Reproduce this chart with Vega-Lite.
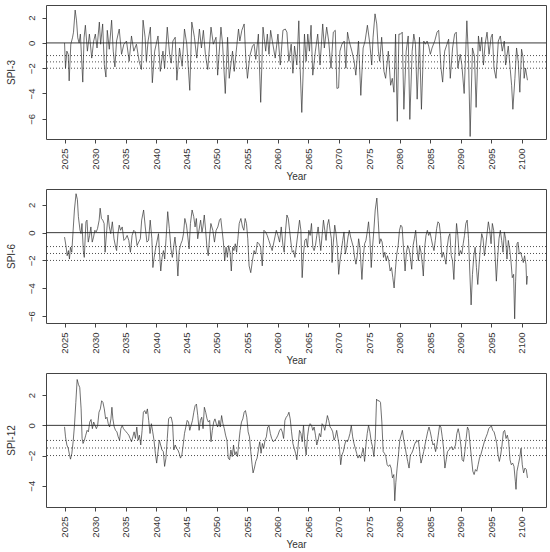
{
"$schema": "https://vega.github.io/schema/vega-lite/v6.json",
"padding": {"left": 5, "top": 4, "right": 5, "bottom": 0},
"background": "white",
"spacing": 50,
"bounds": "flush",
"config": {
  "view": {"stroke": "#444", "strokeWidth": 1},
  "font": "Liberation Sans",
  "axis": {"grid": false, "domain": false, "tickColor": "#444", "tickSize": 4, "labelColor": "#333", "labelFontSize": 9.5, "titleFontSize": 10, "titleFontWeight": "normal", "titleColor": "#333", "labelFont": "Liberation Sans", "titleFont": "Liberation Sans", "labelOverlap": false},
  "axisX": {"labelAngle": 270, "labelPadding": 5, "titleY": 37, "titleBaseline": "middle"},
  "axisY": {"labelAngle": 270, "labelPadding": 6, "titleX": -35, "titleBaseline": "middle", "titleAngle": 270}
},
"datasets": {
"s3": [
{"t":2025.0,"v":0.0},{"t":2025.16,"v":-2.0},{"t":2025.38,"v":-0.65},{"t":2025.6,"v":-0.9},{"t":2025.76,"v":-3.0},{"t":2026.03,"v":-0.1},{"t":2026.3,"v":0.4},{"t":2026.47,"v":0.85},{"t":2026.74,"v":2.6},{"t":2026.96,"v":1.8},{"t":2027.17,"v":0.4},{"t":2027.39,"v":0.0},{"t":2027.6,"v":0.7},{"t":2027.99,"v":-3.1},{"t":2028.2,"v":0.4},{"t":2028.42,"v":1.4},{"t":2028.75,"v":-0.65},{"t":2029.08,"v":0.7},{"t":2029.46,"v":-1.2},{"t":2029.78,"v":0.15},{"t":2030.05,"v":0.7},{"t":2030.33,"v":-0.4},{"t":2030.71,"v":1.65},{"t":2030.92,"v":-0.1},{"t":2031.25,"v":1.5},{"t":2031.52,"v":-1.7},{"t":2031.79,"v":-2.7},{"t":2032.01,"v":1.0},{"t":2032.34,"v":-0.5},{"t":2032.72,"v":1.8},{"t":2032.99,"v":-0.65},{"t":2033.26,"v":-1.9},{"t":2033.53,"v":0.15},{"t":2033.97,"v":1.1},{"t":2034.35,"v":-0.9},{"t":2034.73,"v":-0.1},{"t":2035.16,"v":0.15},{"t":2035.6,"v":-1.45},{"t":2035.98,"v":0.55},{"t":2036.36,"v":-0.65},{"t":2036.79,"v":-0.1},{"t":2037.23,"v":-1.45},{"t":2037.61,"v":-2.1},{"t":2037.88,"v":1.8},{"t":2038.21,"v":0.45},{"t":2038.42,"v":-1.45},{"t":2038.7,"v":0.15},{"t":2039.08,"v":1.25},{"t":2039.4,"v":-3.15},{"t":2039.78,"v":-0.65},{"t":2040.33,"v":0.55},{"t":2040.71,"v":-2.25},{"t":2041.14,"v":-0.65},{"t":2041.41,"v":-2.0},{"t":2041.85,"v":1.25},{"t":2042.23,"v":-0.9},{"t":2042.5,"v":-1.6},{"t":2042.77,"v":0.15},{"t":2043.15,"v":0.45},{"t":2043.42,"v":-2.95},{"t":2043.86,"v":-0.4},{"t":2044.29,"v":-1.85},{"t":2044.67,"v":1.1},{"t":2045.05,"v":-0.1},{"t":2045.54,"v":-3.75},{"t":2045.87,"v":1.65},{"t":2046.3,"v":0.45},{"t":2046.68,"v":-1.2},{"t":2047.12,"v":1.1},{"t":2047.45,"v":-0.4},{"t":2047.77,"v":1.0},{"t":2048.1,"v":-0.9},{"t":2048.48,"v":-2.1},{"t":2049.02,"v":1.25},{"t":2049.4,"v":-0.1},{"t":2049.84,"v":0.45},{"t":2050.11,"v":-2.55},{"t":2050.65,"v":1.25},{"t":2050.92,"v":-0.1},{"t":2051.36,"v":-4.0},{"t":2051.74,"v":0.45},{"t":2052.01,"v":-2.8},{"t":2052.55,"v":-0.65},{"t":2052.83,"v":-2.25},{"t":2053.21,"v":-0.4},{"t":2053.53,"v":1.1},{"t":2053.75,"v":0.15},{"t":2054.08,"v":1.0},{"t":2054.46,"v":1.5},{"t":2054.73,"v":-1.2},{"t":2055.0,"v":-2.8},{"t":2055.38,"v":-1.05},{"t":2055.82,"v":-0.25},{"t":2056.09,"v":-0.1},{"t":2056.36,"v":-1.3},{"t":2056.79,"v":0.7},{"t":2057.17,"v":-4.7},{"t":2057.55,"v":1.25},{"t":2057.99,"v":-0.65},{"t":2058.26,"v":0.7},{"t":2058.53,"v":-0.9},{"t":2058.8,"v":1.0},{"t":2059.08,"v":0.15},{"t":2059.55,"v":-1.2},
{"t":2060.0,"v":0.7},{"t":2060.38,"v":-1.75},{"t":2060.82,"v":1.0},{"t":2061.2,"v":1.1},{"t":2061.47,"v":0.85},{"t":2061.79,"v":-1.45},{"t":2062.17,"v":-0.1},{"t":2062.45,"v":-2.4},{"t":2062.72,"v":-0.25},{"t":2063.1,"v":-1.75},{"t":2063.42,"v":1.75},{"t":2063.64,"v":-2.0},{"t":2063.91,"v":-5.5},{"t":2064.35,"v":0.7},{"t":2064.62,"v":-1.45},{"t":2064.89,"v":0.7},{"t":2065.16,"v":-0.65},{"t":2065.43,"v":1.4},{"t":2065.71,"v":-2.55},{"t":2066.14,"v":-0.65},{"t":2066.52,"v":0.7},{"t":2066.9,"v":-1.75},{"t":2067.34,"v":1.5},{"t":2067.61,"v":-0.4},{"t":2067.99,"v":1.25},{"t":2068.32,"v":0.15},{"t":2068.7,"v":-2.0},{"t":2069.08,"v":0.85},{"t":2069.4,"v":1.0},{"t":2069.67,"v":-3.6},{"t":2069.95,"v":-3.55},{"t":2070.16,"v":-0.65},{"t":2070.49,"v":-0.1},{"t":2070.87,"v":0.15},{"t":2071.14,"v":-2.0},{"t":2071.41,"v":0.85},{"t":2071.68,"v":0.15},{"t":2072.12,"v":-0.65},{"t":2072.5,"v":-1.45},{"t":2072.77,"v":-2.55},{"t":2073.21,"v":0.15},{"t":2073.59,"v":-4.15},{"t":2073.97,"v":-0.4},{"t":2074.29,"v":0.15},{"t":2074.67,"v":1.4},{"t":2075.05,"v":0.0},{"t":2075.38,"v":-1.75},{"t":2075.6,"v":0.45},{"t":2075.92,"v":2.3},{"t":2076.2,"v":1.5},{"t":2076.47,"v":-0.65},{"t":2076.68,"v":-1.45},{"t":2077.01,"v":0.45},{"t":2077.39,"v":-2.25},{"t":2077.66,"v":-2.8},{"t":2078.1,"v":-0.65},{"t":2078.48,"v":-3.35},{"t":2078.75,"v":-2.8},{"t":2079.02,"v":-3.9},{"t":2079.29,"v":0.7},{"t":2079.57,"v":-6.2},{"t":2079.84,"v":0.7},{"t":2080.11,"v":0.7},{"t":2080.38,"v":0.85},{"t":2080.65,"v":-5.25},{"t":2081.03,"v":-0.65},{"t":2081.36,"v":0.55},{"t":2081.63,"v":-6.05},{"t":2082.01,"v":-0.65},{"t":2082.28,"v":0.7},{"t":2082.55,"v":-0.1},{"t":2082.83,"v":-4.45},{"t":2083.21,"v":0.45},{"t":2083.53,"v":-5.25},{"t":2083.91,"v":0.15},{"t":2084.18,"v":-0.1},{"t":2084.46,"v":0.15},{"t":2084.73,"v":-0.25},{"t":2085.0,"v":-0.9},{"t":2085.27,"v":-0.4},{"t":2085.71,"v":0.15},{"t":2086.09,"v":0.85},{"t":2086.36,"v":1.0},{"t":2086.74,"v":-2.0},{"t":2087.01,"v":-3.1},{"t":2087.34,"v":-0.65},{"t":2087.72,"v":-0.1},{"t":2087.99,"v":0.3},{"t":2088.26,"v":-2.8},{"t":2088.64,"v":-0.4},{"t":2088.97,"v":0.7},{"t":2089.24,"v":0.85},{"t":2089.51,"v":-2.0},{"t":2089.89,"v":-0.9},{"t":2090.16,"v":-1.75},{"t":2090.54,"v":-4.0},{"t":2090.98,"v":1.75},{"t":2091.25,"v":-1.2},{"t":2091.52,"v":-7.4},{"t":2091.9,"v":-0.4},{"t":2092.23,"v":-1.05},{"t":2092.5,"v":-5.1},{"t":2092.88,"v":0.55},{"t":2093.15,"v":-0.65},{"t":2093.42,"v":0.45},{"t":2093.7,"v":-1.75},{"t":2093.97,"v":-0.1},{"t":2094.29,"v":0.85},{"t":2094.62,"v":-0.9},{"t":2094.95,"v":0.45},{"t":2095.16,"v":0.7},{"t":2095.43,"v":-2.0},{"t":2095.76,"v":-2.8},{"t":2096.14,"v":0.15},{"t":2096.47,"v":0.55},{"t":2096.79,"v":-0.65},{"t":2097.12,"v":0.15},{"t":2097.34,"v":-1.75},{"t":2097.77,"v":-0.25},{"t":2098.1,"v":-2.1},{"t":2098.32,"v":-3.35},{"t":2098.53,"v":-5.25},{"t":2098.86,"v":-2.8},{"t":2099.13,"v":-0.4},{"t":2099.4,"v":-1.45},{"t":2099.67,"v":-3.9},{"t":2099.95,"v":-0.5},{"t":2100.22,"v":-1.2},{"t":2100.38,"v":-2.8},{"t":2100.6,"v":-2.0},{"t":2100.92,"v":-2.95}
],
"s6": [
{"t":2025.0,"v":-0.32},{"t":2025.27,"v":-1.05},{"t":2025.43,"v":-1.66},{"t":2025.65,"v":-1.29},{"t":2025.81,"v":-1.9},{"t":2025.97,"v":-1.05},{"t":2026.19,"v":-1.41},{"t":2026.41,"v":0.17},{"t":2026.62,"v":1.63},{"t":2026.89,"v":2.8},{"t":2027.11,"v":2.37},{"t":2027.27,"v":1.15},{"t":2027.54,"v":0.17},{"t":2027.7,"v":-0.07},{"t":2027.86,"v":0.66},{"t":2028.08,"v":-1.29},{"t":2028.24,"v":-1.78},{"t":2028.51,"v":0.78},{"t":2028.68,"v":0.9},{"t":2028.89,"v":-0.68},{"t":2029.11,"v":-0.2},{"t":2029.32,"v":0.41},{"t":2029.54,"v":-0.68},{"t":2029.76,"v":-0.32},{"t":2029.97,"v":0.17},{"t":2030.19,"v":0.05},{"t":2030.41,"v":0.29},{"t":2030.68,"v":0.9},{"t":2030.84,"v":1.76},{"t":2031.05,"v":1.02},{"t":2031.27,"v":0.9},{"t":2031.49,"v":0.66},{"t":2031.65,"v":-1.41},{"t":2031.92,"v":0.17},{"t":2032.14,"v":1.27},{"t":2032.35,"v":0.41},{"t":2032.57,"v":-0.07},{"t":2032.84,"v":0.78},{"t":2033.11,"v":-0.44},{"t":2033.38,"v":-1.05},{"t":2033.54,"v":-1.29},{"t":2033.76,"v":-0.07},{"t":2033.97,"v":0.54},{"t":2034.19,"v":0.17},{"t":2034.46,"v":0.41},{"t":2034.73,"v":-0.56},{"t":2035.0,"v":-0.44},{"t":2035.27,"v":-0.2},{"t":2035.54,"v":-0.56},{"t":2035.81,"v":-1.41},{"t":2036.08,"v":-0.2},{"t":2036.35,"v":0.17},{"t":2036.62,"v":0.05},{"t":2036.89,"v":-0.93},{"t":2037.16,"v":-0.68},{"t":2037.43,"v":-0.44},{"t":2037.65,"v":0.9},{"t":2037.97,"v":1.63},{"t":2038.24,"v":0.41},{"t":2038.51,"v":-0.68},{"t":2038.78,"v":-0.56},{"t":2039.05,"v":0.9},{"t":2039.32,"v":-0.44},{"t":2039.49,"v":-2.51},{"t":2039.7,"v":-1.78},{"t":2039.92,"v":-1.17},{"t":2040.14,"v":-0.68},{"t":2040.41,"v":-0.07},{"t":2040.57,"v":-1.41},{"t":2040.78,"v":-2.76},{"t":2041.0,"v":-1.78},{"t":2041.22,"v":-1.29},{"t":2041.43,"v":-1.9},{"t":2041.65,"v":-0.44},{"t":2041.92,"v":1.51},{"t":2042.19,"v":0.29},{"t":2042.46,"v":-1.17},{"t":2042.68,"v":-1.78},{"t":2042.89,"v":-1.05},{"t":2043.11,"v":-0.32},{"t":2043.38,"v":-1.54},{"t":2043.59,"v":-3.12},{"t":2043.81,"v":-1.29},{"t":2044.08,"v":-0.8},{"t":2044.3,"v":-0.56},{"t":2044.51,"v":-0.07},{"t":2044.73,"v":1.02},{"t":2045.0,"v":0.54},{"t":2045.22,"v":-0.32},{"t":2045.43,"v":-1.17},{"t":2045.65,"v":0.66},{"t":2045.92,"v":1.63},{"t":2046.19,"v":1.15},{"t":2046.41,"v":0.41},{"t":2046.62,"v":1.02},{"t":2046.84,"v":-0.44},{"t":2047.05,"v":0.17},{"t":2047.32,"v":0.9},{"t":2047.54,"v":0.05},{"t":2047.7,"v":0.41},{"t":2047.92,"v":1.27},{"t":2048.14,"v":0.17},{"t":2048.35,"v":-1.05},{"t":2048.57,"v":-1.66},{"t":2048.78,"v":-0.32},{"t":2049.0,"v":0.66},{"t":2049.32,"v":0.17},{"t":2049.59,"v":-0.68},{"t":2049.86,"v":0.17},{"t":2050.14,"v":0.41},{"t":2050.41,"v":0.9},{"t":2050.62,"v":1.02},{"t":2050.84,"v":0.17},{"t":2051.05,"v":-0.68},{"t":2051.27,"v":-2.02},{"t":2051.49,"v":-1.05},{"t":2051.7,"v":-1.78},{"t":2051.92,"v":-0.93},{"t":2052.14,"v":-1.41},{"t":2052.35,"v":-2.76},{"t":2052.57,"v":-1.05},{"t":2052.78,"v":-1.29},{"t":2053.0,"v":-0.8},{"t":2053.22,"v":-1.41},{"t":2053.43,"v":-0.44},{"t":2053.65,"v":0.66},{"t":2053.92,"v":1.02},{"t":2054.19,"v":0.41},{"t":2054.41,"v":0.17},{"t":2054.62,"v":1.02},{"t":2054.84,"v":0.66},{"t":2055.05,"v":-0.44},{"t":2055.27,"v":-2.39},{"t":2055.54,"v":-2.88},{"t":2055.81,"v":-2.02},{"t":2056.08,"v":-1.29},{"t":2056.35,"v":-1.54},{"t":2056.62,"v":-0.68},{"t":2056.89,"v":-0.8},{"t":2057.16,"v":-1.05},{"t":2057.43,"v":-2.39},{"t":2057.7,"v":0.17},{"t":2057.97,"v":0.05},{"t":2058.24,"v":-0.2},{"t":2058.51,"v":-0.56},{"t":2058.78,"v":-0.93},{"t":2059.05,"v":-1.29},
{"t":2059.73,"v":0.17},{"t":2060.0,"v":-0.2},{"t":2060.27,"v":-0.68},{"t":2060.54,"v":0.41},{"t":2060.82,"v":-0.93},{"t":2061.03,"v":-1.41},{"t":2061.25,"v":0.17},{"t":2061.47,"v":1.27},{"t":2061.69,"v":1.02},{"t":2061.91,"v":0.17},{"t":2062.12,"v":-0.68},{"t":2062.34,"v":-1.41},{"t":2062.56,"v":-1.29},{"t":2062.78,"v":-1.78},{"t":2062.99,"v":-1.05},{"t":2063.27,"v":-0.07},{"t":2063.54,"v":0.9},{"t":2063.76,"v":0.17},{"t":2063.97,"v":-3.24},{"t":2064.19,"v":-1.54},{"t":2064.41,"v":-0.56},{"t":2064.63,"v":-0.44},{"t":2064.84,"v":-1.05},{"t":2065.06,"v":0.17},{"t":2065.28,"v":-0.2},{"t":2065.5,"v":0.66},{"t":2065.72,"v":-1.05},{"t":2065.93,"v":-1.29},{"t":2066.15,"v":-0.93},{"t":2066.37,"v":-0.2},{"t":2066.59,"v":0.41},{"t":2066.8,"v":-0.44},{"t":2067.02,"v":-1.29},{"t":2067.24,"v":-0.2},{"t":2067.46,"v":0.9},{"t":2067.68,"v":0.17},{"t":2067.89,"v":-0.56},{"t":2068.11,"v":0.54},{"t":2068.33,"v":0.95},{"t":2068.55,"v":0.17},{"t":2068.76,"v":-0.44},{"t":2068.87,"v":-2.15},{"t":2069.09,"v":-0.68},{"t":2069.31,"v":0.54},{"t":2069.53,"v":-0.07},{"t":2069.74,"v":-1.05},{"t":2069.96,"v":-3.0},{"t":2070.18,"v":-2.02},{"t":2070.4,"v":-1.29},{"t":2070.62,"v":-0.56},{"t":2070.83,"v":0.05},{"t":2071.05,"v":-1.54},{"t":2071.27,"v":-1.05},{"t":2071.49,"v":-0.32},{"t":2071.7,"v":0.17},{"t":2071.92,"v":-0.32},{"t":2072.14,"v":-0.68},{"t":2072.36,"v":-1.05},{"t":2072.57,"v":-1.78},{"t":2072.79,"v":-2.27},{"t":2073.01,"v":-1.66},{"t":2073.23,"v":-0.44},{"t":2073.45,"v":-1.05},{"t":2073.77,"v":-3.37},{"t":2073.99,"v":-1.78},{"t":2074.21,"v":-0.8},{"t":2074.43,"v":-0.56},{"t":2074.64,"v":0.05},{"t":2074.86,"v":0.78},{"t":2075.08,"v":-0.44},{"t":2075.3,"v":-2.51},{"t":2075.51,"v":-1.05},{"t":2075.73,"v":0.17},{"t":2075.95,"v":1.63},{"t":2076.22,"v":2.49},{"t":2076.44,"v":0.9},{"t":2076.66,"v":-0.8},{"t":2076.87,"v":-0.44},{"t":2077.09,"v":-0.68},{"t":2077.31,"v":-1.78},{"t":2077.53,"v":-1.41},{"t":2077.75,"v":-2.02},{"t":2077.96,"v":-1.66},{"t":2078.18,"v":-2.02},{"t":2078.4,"v":-2.76},{"t":2078.62,"v":-2.51},{"t":2078.84,"v":-3.24},{"t":2079.05,"v":-3.98},{"t":2079.27,"v":-2.63},{"t":2079.49,"v":-1.54},{"t":2079.71,"v":-0.93},{"t":2079.93,"v":0.17},{"t":2080.14,"v":0.54},{"t":2080.36,"v":0.41},{"t":2080.58,"v":-1.05},{"t":2080.85,"v":-2.76},{"t":2081.07,"v":-1.41},{"t":2081.28,"v":-0.93},{"t":2081.5,"v":-1.17},{"t":2081.72,"v":-1.78},{"t":2081.94,"v":-2.63},{"t":2082.16,"v":-0.93},{"t":2082.37,"v":-0.44},{"t":2082.59,"v":0.17},{"t":2082.81,"v":-1.17},{"t":2083.03,"v":-2.02},{"t":2083.24,"v":-0.93},{"t":2083.46,"v":-1.41},{"t":2083.68,"v":-2.27},{"t":2083.84,"v":-3.12},{"t":2084.06,"v":-1.05},{"t":2084.28,"v":-0.2},{"t":2084.5,"v":0.17},{"t":2084.72,"v":-0.2},{"t":2084.93,"v":0.05},{"t":2085.15,"v":-0.44},{"t":2085.37,"v":-0.93},{"t":2085.59,"v":-1.29},{"t":2085.8,"v":-0.56},{"t":2086.02,"v":0.29},{"t":2086.24,"v":0.78},{"t":2086.46,"v":0.66},{"t":2086.67,"v":-0.2},{"t":2086.89,"v":-1.78},{"t":2087.11,"v":-1.41},{"t":2087.33,"v":-1.78},{"t":2087.55,"v":-2.27},{"t":2087.76,"v":-1.05},{"t":2087.98,"v":-0.32},{"t":2088.2,"v":-0.07},{"t":2088.42,"v":-1.66},{"t":2088.63,"v":-2.02},{"t":2088.85,"v":-3.37},{"t":2089.07,"v":-1.05},{"t":2089.29,"v":0.66},{"t":2089.5,"v":-0.2},{"t":2089.72,"v":-1.66},{"t":2089.94,"v":-1.29},{"t":2090.16,"v":-1.54},{"t":2090.38,"v":-0.8},{"t":2090.59,"v":-0.2},{"t":2090.81,"v":0.66},{"t":2091.03,"v":0.9},{"t":2091.25,"v":-0.44},{"t":2091.46,"v":-2.76},{"t":2091.68,"v":-5.2},{"t":2091.9,"v":-3.0},{"t":2092.12,"v":-1.66},{"t":2092.34,"v":-1.05},{"t":2092.55,"v":-2.51},{"t":2092.77,"v":-3.73},{"t":2092.99,"v":-2.27},{"t":2093.21,"v":-1.05},{"t":2093.42,"v":-0.07},{"t":2093.64,"v":-0.44},{"t":2093.86,"v":-1.66},{"t":2094.08,"v":-0.93},{"t":2094.29,"v":-0.07},{"t":2094.51,"v":0.78},{"t":2094.73,"v":0.17},{"t":2094.95,"v":-0.8},{"t":2095.16,"v":0.66},{"t":2095.38,"v":0.17},{"t":2095.6,"v":-1.54},{"t":2095.82,"v":-3.49},{"t":2096.04,"v":-1.78},{"t":2096.25,"v":-0.44},{"t":2096.47,"v":0.17},{"t":2096.69,"v":-0.56},{"t":2096.91,"v":-1.41},{"t":2097.13,"v":0.05},{"t":2097.34,"v":-0.44},{"t":2097.56,"v":-1.9},{"t":2097.78,"v":-0.56},{"t":2098.0,"v":-1.17},{"t":2098.21,"v":-2.02},{"t":2098.43,"v":-3.24},{"t":2098.65,"v":-3.0},{"t":2098.82,"v":-6.2},{"t":2098.98,"v":-3.49},{"t":2099.2,"v":-0.8},{"t":2099.37,"v":-0.68},{"t":2099.58,"v":-1.54},{"t":2099.8,"v":-1.41},{"t":2100.02,"v":-1.78},{"t":2100.24,"v":-2.15},{"t":2100.45,"v":-1.66},{"t":2100.67,"v":-2.27},{"t":2100.8,"v":-3.73},{"t":2100.92,"v":-3.12}
],
"s12": [
{"t":2025.0,"v":-0.1},{"t":2025.16,"v":-0.76},{"t":2025.38,"v":-1.3},{"t":2025.6,"v":-1.52},{"t":2025.82,"v":-1.96},{"t":2025.98,"v":-2.24},{"t":2026.2,"v":-1.85},{"t":2026.41,"v":-1.09},{"t":2026.63,"v":0.0},{"t":2026.85,"v":1.52},{"t":2027.07,"v":3.04},{"t":2027.28,"v":2.72},{"t":2027.5,"v":2.5},{"t":2027.72,"v":1.09},{"t":2027.88,"v":-0.87},{"t":2028.04,"v":-1.2},{"t":2028.26,"v":-0.98},{"t":2028.48,"v":-0.65},{"t":2028.7,"v":-0.33},{"t":2028.91,"v":-0.43},{"t":2029.13,"v":0.22},{"t":2029.35,"v":0.39},{"t":2029.57,"v":-0.22},{"t":2029.78,"v":0.22},{"t":2030.0,"v":0.0},{"t":2030.22,"v":-0.22},{"t":2030.43,"v":0.0},{"t":2030.65,"v":0.87},{"t":2030.87,"v":1.09},{"t":2031.09,"v":1.63},{"t":2031.3,"v":1.52},{"t":2031.52,"v":1.09},{"t":2031.74,"v":0.43},{"t":2031.96,"v":0.54},{"t":2032.17,"v":0.11},{"t":2032.39,"v":-0.11},{"t":2032.61,"v":0.43},{"t":2032.77,"v":1.2},{"t":2032.93,"v":0.43},{"t":2033.15,"v":-0.11},{"t":2033.37,"v":-0.33},{"t":2033.59,"v":-0.43},{"t":2033.8,"v":-0.76},{"t":2034.02,"v":-0.98},{"t":2034.24,"v":-0.22},{"t":2034.46,"v":0.0},{"t":2034.67,"v":-0.22},{"t":2034.89,"v":-0.33},{"t":2035.11,"v":-0.43},{"t":2035.33,"v":-0.54},{"t":2035.54,"v":-0.65},{"t":2035.76,"v":-0.87},{"t":2035.98,"v":-1.09},{"t":2036.2,"v":-0.76},{"t":2036.41,"v":-0.43},{"t":2036.63,"v":-0.87},{"t":2036.85,"v":-0.11},{"t":2037.07,"v":-0.98},{"t":2037.28,"v":-0.65},{"t":2037.5,"v":-1.3},{"t":2037.72,"v":-0.33},{"t":2037.93,"v":0.87},{"t":2038.15,"v":0.98},{"t":2038.37,"v":0.76},{"t":2038.59,"v":1.09},{"t":2038.8,"v":0.33},{"t":2039.02,"v":-0.54},{"t":2039.24,"v":0.11},{"t":2039.46,"v":-0.43},{"t":2039.67,"v":-0.98},{"t":2039.89,"v":-1.85},{"t":2040.11,"v":-2.5},{"t":2040.33,"v":-1.74},{"t":2040.54,"v":-0.98},{"t":2040.76,"v":-1.3},{"t":2040.98,"v":-1.63},{"t":2041.2,"v":-1.74},{"t":2041.41,"v":-2.72},{"t":2041.63,"v":-2.17},{"t":2041.85,"v":-0.87},{"t":2042.07,"v":0.43},{"t":2042.28,"v":0.54},{"t":2042.5,"v":0.54},{"t":2042.72,"v":0.11},{"t":2042.93,"v":-1.63},{"t":2043.15,"v":-1.3},{"t":2043.37,"v":-1.52},{"t":2043.59,"v":-1.63},{"t":2043.8,"v":-1.85},{"t":2044.02,"v":-2.17},{"t":2044.24,"v":-1.96},{"t":2044.46,"v":-1.3},{"t":2044.67,"v":-0.54},{"t":2044.89,"v":-0.11},{"t":2045.11,"v":0.33},{"t":2045.33,"v":0.22},{"t":2045.54,"v":-0.33},{"t":2045.76,"v":0.0},{"t":2045.98,"v":0.33},{"t":2046.2,"v":0.87},{"t":2046.41,"v":1.3},{"t":2046.63,"v":1.41},{"t":2046.85,"v":0.65},{"t":2047.07,"v":-0.33},{"t":2047.28,"v":0.33},{"t":2047.5,"v":0.54},{"t":2047.72,"v":-0.22},{"t":2047.93,"v":1.2},{"t":2048.15,"v":0.87},{"t":2048.37,"v":0.43},{"t":2048.59,"v":0.22},{"t":2048.8,"v":0.33},{"t":2049.02,"v":-1.09},{"t":2049.24,"v":-0.33},{"t":2049.46,"v":0.22},{"t":2049.67,"v":0.43},{"t":2049.89,"v":0.11},{"t":2050.11,"v":-0.11},{"t":2050.33,"v":0.33},{"t":2050.54,"v":-0.11},{"t":2050.76,"v":0.65},{"t":2050.98,"v":0.11},{"t":2051.2,"v":-0.22},{"t":2051.41,"v":-0.65},{"t":2051.63,"v":-0.98},{"t":2051.85,"v":-2.17},{"t":2052.07,"v":-2.28},{"t":2052.28,"v":-1.63},{"t":2052.5,"v":-2.07},{"t":2052.72,"v":-1.3},{"t":2052.93,"v":-1.96},{"t":2053.15,"v":-1.74},{"t":2053.37,"v":-2.07},{"t":2053.59,"v":-1.09},{"t":2053.8,"v":-0.33},{"t":2054.02,"v":0.22},{"t":2054.24,"v":0.43},{"t":2054.46,"v":0.87},{"t":2054.67,"v":0.98},{"t":2054.89,"v":0.54},{"t":2055.11,"v":-0.43},{"t":2055.33,"v":-0.76},{"t":2055.54,"v":-1.74},{"t":2055.76,"v":-2.61},{"t":2055.92,"v":-3.15},{"t":2056.14,"v":-2.83},{"t":2056.36,"v":-2.39},{"t":2056.58,"v":-2.17},{"t":2056.79,"v":-1.63},{"t":2057.01,"v":-1.09},{"t":2057.23,"v":-1.85},{"t":2057.45,"v":-1.2},{"t":2057.66,"v":-1.52},{"t":2057.88,"v":-0.98},{"t":2058.1,"v":-0.76},{"t":2058.32,"v":-0.11},{"t":2058.53,"v":-0.04},{"t":2058.75,"v":-0.54},{"t":2058.97,"v":-0.87},{"t":2059.24,"v":-1.09},
{"t":2059.73,"v":-0.87},{"t":2060.0,"v":-0.65},{"t":2060.27,"v":-0.33},{"t":2060.49,"v":-0.22},{"t":2060.71,"v":-0.43},{"t":2060.93,"v":-0.87},{"t":2061.14,"v":0.33},{"t":2061.36,"v":0.54},{"t":2061.58,"v":0.65},{"t":2061.8,"v":0.87},{"t":2062.01,"v":0.43},{"t":2062.23,"v":-0.43},{"t":2062.45,"v":-1.2},{"t":2062.67,"v":-1.52},{"t":2062.89,"v":-1.85},{"t":2063.1,"v":-2.28},{"t":2063.32,"v":-1.3},{"t":2063.54,"v":-0.33},{"t":2063.76,"v":-0.54},{"t":2063.97,"v":-1.09},{"t":2064.19,"v":0.0},{"t":2064.41,"v":-1.3},{"t":2064.63,"v":-1.96},{"t":2064.84,"v":-0.76},{"t":2065.06,"v":-0.11},{"t":2065.28,"v":0.11},{"t":2065.5,"v":0.0},{"t":2065.72,"v":-0.33},{"t":2065.93,"v":-0.11},{"t":2066.15,"v":-0.65},{"t":2066.37,"v":-1.3},{"t":2066.59,"v":-0.98},{"t":2066.8,"v":-0.54},{"t":2067.02,"v":-0.76},{"t":2067.24,"v":0.11},{"t":2067.46,"v":0.0},{"t":2067.68,"v":-0.33},{"t":2067.89,"v":0.11},{"t":2068.11,"v":0.65},{"t":2068.33,"v":0.33},{"t":2068.55,"v":-0.11},{"t":2068.76,"v":-0.22},{"t":2068.98,"v":-0.43},{"t":2069.2,"v":-0.98},{"t":2069.42,"v":-0.76},{"t":2069.63,"v":-0.33},{"t":2069.85,"v":-0.87},{"t":2070.07,"v":-1.41},{"t":2070.29,"v":-2.61},{"t":2070.5,"v":-1.96},{"t":2070.72,"v":-1.74},{"t":2070.94,"v":-1.3},{"t":2071.16,"v":-0.98},{"t":2071.38,"v":-1.09},{"t":2071.59,"v":-0.87},{"t":2071.81,"v":-0.54},{"t":2072.03,"v":0.0},{"t":2072.25,"v":-0.76},{"t":2072.47,"v":-1.2},{"t":2072.68,"v":-1.52},{"t":2072.9,"v":-1.85},{"t":2073.12,"v":-2.17},{"t":2073.34,"v":-1.96},{"t":2073.55,"v":-2.17},{"t":2073.77,"v":-1.85},{"t":2073.99,"v":-1.52},{"t":2074.21,"v":-2.39},{"t":2074.43,"v":-1.3},{"t":2074.64,"v":-0.54},{"t":2074.86,"v":0.0},{"t":2075.08,"v":-0.43},{"t":2075.3,"v":-1.09},{"t":2075.51,"v":-1.41},{"t":2075.73,"v":-2.07},{"t":2075.95,"v":-0.98},{"t":2076.17,"v":1.74},{"t":2076.39,"v":1.63},{"t":2076.6,"v":1.63},{"t":2076.82,"v":1.52},{"t":2077.04,"v":0.22},{"t":2077.26,"v":-1.74},{"t":2077.47,"v":-1.85},{"t":2077.69,"v":-2.07},{"t":2077.91,"v":-2.61},{"t":2078.13,"v":-2.72},{"t":2078.35,"v":-2.61},{"t":2078.56,"v":-2.83},{"t":2078.78,"v":-3.48},{"t":2079.0,"v":-3.26},{"t":2079.16,"v":-5.0},{"t":2079.33,"v":-3.8},{"t":2079.54,"v":-2.83},{"t":2079.76,"v":-1.96},{"t":2079.98,"v":-0.98},{"t":2080.2,"v":-0.65},{"t":2080.41,"v":-0.33},{"t":2080.63,"v":-0.98},{"t":2080.85,"v":-1.41},{"t":2081.07,"v":-1.96},{"t":2081.28,"v":-2.39},{"t":2081.5,"v":-2.83},{"t":2081.72,"v":-1.96},{"t":2081.94,"v":-1.85},{"t":2082.15,"v":-1.63},{"t":2082.37,"v":-1.3},{"t":2082.59,"v":-1.09},{"t":2082.81,"v":-1.09},{"t":2083.03,"v":-0.98},{"t":2083.24,"v":-1.74},{"t":2083.46,"v":-2.5},{"t":2083.68,"v":-2.17},{"t":2083.9,"v":-1.74},{"t":2084.11,"v":-1.3},{"t":2084.33,"v":-0.87},{"t":2084.55,"v":-0.43},{"t":2084.77,"v":-0.11},{"t":2084.98,"v":-0.43},{"t":2085.2,"v":-0.87},{"t":2085.42,"v":-1.3},{"t":2085.63,"v":-1.2},{"t":2085.85,"v":-1.74},{"t":2086.07,"v":-1.3},{"t":2086.29,"v":-0.65},{"t":2086.51,"v":0.0},{"t":2086.72,"v":-0.11},{"t":2086.94,"v":-0.76},{"t":2087.16,"v":-1.52},{"t":2087.38,"v":-2.83},{"t":2087.6,"v":-2.28},{"t":2087.81,"v":-1.74},{"t":2088.03,"v":-1.63},{"t":2088.25,"v":-1.52},{"t":2088.47,"v":-1.41},{"t":2088.69,"v":-1.63},{"t":2088.9,"v":-1.52},{"t":2089.12,"v":-1.3},{"t":2089.34,"v":-0.54},{"t":2089.56,"v":-0.22},{"t":2089.78,"v":-0.65},{"t":2089.99,"v":-1.3},{"t":2090.21,"v":-2.28},{"t":2090.43,"v":-2.39},{"t":2090.65,"v":-1.74},{"t":2090.87,"v":-0.87},{"t":2091.08,"v":-0.11},{"t":2091.3,"v":-0.33},{"t":2091.52,"v":-1.3},{"t":2091.74,"v":-2.17},{"t":2091.96,"v":-3.04},{"t":2092.17,"v":-3.26},{"t":2092.39,"v":-2.93},{"t":2092.61,"v":-3.04},{"t":2092.83,"v":-2.61},{"t":2093.05,"v":-2.17},{"t":2093.26,"v":-1.96},{"t":2093.48,"v":-1.63},{"t":2093.7,"v":-1.3},{"t":2093.92,"v":-0.98},{"t":2094.14,"v":-0.76},{"t":2094.35,"v":-0.54},{"t":2094.57,"v":-0.22},{"t":2094.79,"v":-0.11},{"t":2095.01,"v":-0.04},{"t":2095.22,"v":-0.33},{"t":2095.44,"v":-0.43},{"t":2095.66,"v":-0.76},{"t":2095.88,"v":-1.2},{"t":2096.1,"v":-1.96},{"t":2096.31,"v":-2.39},{"t":2096.53,"v":-1.96},{"t":2096.75,"v":-1.3},{"t":2096.97,"v":-0.43},{"t":2097.18,"v":-0.33},{"t":2097.4,"v":-0.87},{"t":2097.62,"v":-0.65},{"t":2097.84,"v":-1.09},{"t":2098.06,"v":-2.28},{"t":2098.27,"v":-2.61},{"t":2098.49,"v":-2.5},{"t":2098.71,"v":-2.72},{"t":2098.93,"v":-3.7},{"t":2099.04,"v":-4.24},{"t":2099.2,"v":-3.04},{"t":2099.42,"v":-2.61},{"t":2099.64,"v":-2.17},{"t":2099.86,"v":-1.52},{"t":2100.07,"v":-2.61},{"t":2100.29,"v":-3.15},{"t":2100.51,"v":-2.83},{"t":2100.73,"v":-2.93},{"t":2100.92,"v":-3.48}
]
},
"vconcat": [
{
"width": 500, "height": 134,
"layer": [
{"data": {"name": "s3"}, "mark": {"type": "line", "color": "#333", "strokeWidth": 0.7, "clip": true},
 "encoding": {
  "x": {"field": "t", "type": "quantitative", "title": "Year", "scale": {"domain": [2021.96, 2103.96], "nice": false, "zero": false}, "axis": {"values": [2025,2030,2035,2040,2045,2050,2055,2060,2065,2070,2075,2080,2085,2090,2095,2100], "format": "d", "tickCount": 30}},
  "y": {"field": "v", "type": "quantitative", "title": "SPI-3", "scale": {"domain": [-7.6, 3.0], "nice": false, "zero": false}, "axis": {"values": [-6,-4,-2,0,2], "tickCount": 20, "format": "d"}}
 }},
{"data": {"values": [{"r": 0}]}, "mark": {"type": "rule", "color": "#222", "strokeWidth": 0.9}, "encoding": {"y": {"field": "r", "type": "quantitative", "title": "SPI-3"}}},
{"data": {"values": [{"r": -1}, {"r": -1.5}, {"r": -2}]}, "mark": {"type": "rule", "color": "#222", "strokeWidth": 0.8, "strokeDash": [1, 2]}, "encoding": {"y": {"field": "r", "type": "quantitative", "title": "SPI-3"}}}
]
},
{
"width": 500, "height": 134,
"layer": [
{"data": {"name": "s6"}, "mark": {"type": "line", "color": "#333", "strokeWidth": 0.7, "clip": true},
 "encoding": {
  "x": {"field": "t", "type": "quantitative", "title": "Year", "scale": {"domain": [2021.96, 2103.96], "nice": false, "zero": false}, "axis": {"values": [2025,2030,2035,2040,2045,2050,2055,2060,2065,2070,2075,2080,2085,2090,2095,2100], "format": "d", "tickCount": 30}},
  "y": {"field": "v", "type": "quantitative", "title": "SPI-6", "scale": {"domain": [-6.5, 3.14], "nice": false, "zero": false}, "axis": {"values": [-6,-4,-2,0,2], "tickCount": 20, "format": "d"}}
 }},
{"data": {"values": [{"r": 0}]}, "mark": {"type": "rule", "color": "#222", "strokeWidth": 0.9}, "encoding": {"y": {"field": "r", "type": "quantitative", "title": "SPI-6"}}},
{"data": {"values": [{"r": -1}, {"r": -1.5}, {"r": -2}]}, "mark": {"type": "rule", "color": "#222", "strokeWidth": 0.8, "strokeDash": [1, 2]}, "encoding": {"y": {"field": "r", "type": "quantitative", "title": "SPI-6"}}}
]
},
{
"width": 500, "height": 134,
"layer": [
{"data": {"name": "s12"}, "mark": {"type": "line", "color": "#333", "strokeWidth": 0.7, "clip": true},
 "encoding": {
  "x": {"field": "t", "type": "quantitative", "title": "Year", "scale": {"domain": [2021.96, 2103.96], "nice": false, "zero": false}, "axis": {"values": [2025,2030,2035,2040,2045,2050,2055,2060,2065,2070,2075,2080,2085,2090,2095,2100], "format": "d", "tickCount": 30}},
  "y": {"field": "v", "type": "quantitative", "title": "SPI-12", "scale": {"domain": [-5.41, 3.47], "nice": false, "zero": false}, "axis": {"values": [-4,-2,0,2], "tickCount": 20, "format": "d"}}
 }},
{"data": {"values": [{"r": 0}]}, "mark": {"type": "rule", "color": "#222", "strokeWidth": 0.9}, "encoding": {"y": {"field": "r", "type": "quantitative", "title": "SPI-12"}}},
{"data": {"values": [{"r": -1}, {"r": -1.5}, {"r": -2}]}, "mark": {"type": "rule", "color": "#222", "strokeWidth": 0.8, "strokeDash": [1, 2]}, "encoding": {"y": {"field": "r", "type": "quantitative", "title": "SPI-12"}}}
]
}
]
}
